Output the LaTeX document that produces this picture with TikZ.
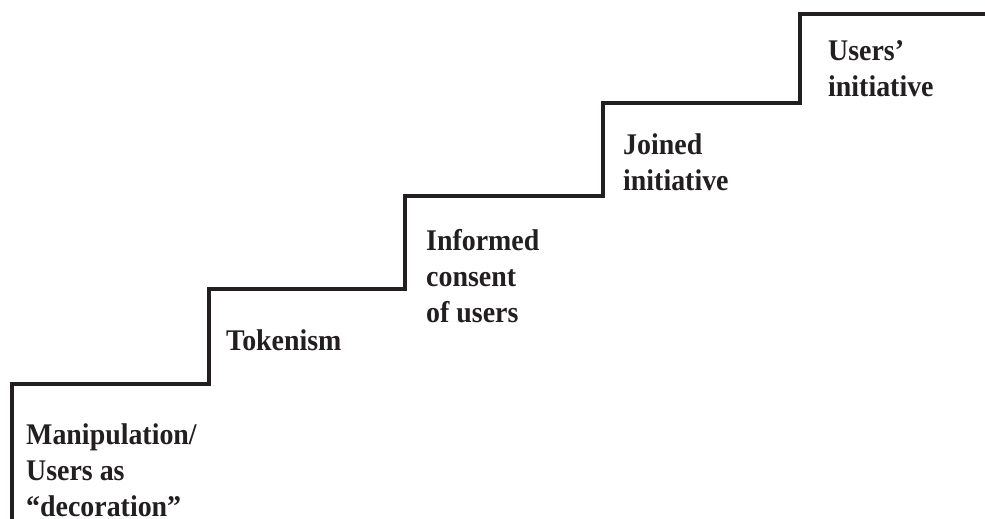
\documentclass[tikz,border=0pt]{standalone}
\usepackage{fontspec}
\setmainfont{Liberation Serif}
\newfontfamily\stepfont{Liberation Serif}[FakeStretch=0.93, Ligatures=TeX]
\usepackage{tikz}
\usetikzlibrary{positioning}
\definecolor{stairink}{RGB}{35,31,32}
\tikzstyle{stairline} = [line width=3.2pt, color=stairink, line join=miter]
\tikzstyle{steplabel} = [anchor=base west, inner sep=0pt, align=left, text=stairink,
  font=\stepfont\fontsize{30}{36}\selectfont\bfseries]

\begin{document}
\begin{tikzpicture}[x=1pt, y=-1pt]
\useasboundingbox (0,0) rectangle (985,519);
% Staircase
\coordinate (s0) at (12,519);
\coordinate (s1) at (209,384);
\coordinate (s2) at (405,289);
\coordinate (s3) at (603,196);
\coordinate (s4) at (800,103);
\coordinate (s5) at (985,14);
\draw[stairline] (s0) |- (s1) |- (s2) |- (s3) |- (s4) |- (s5);
% Step labels (anchored at the baseline of the last line)
\node[steplabel] (manip) at (26,516) {Manipulation/\\Users as\\“decoration”};
\node[steplabel] (token) at (226,350) {Tokenism};
\node[steplabel] (consent) at (426,322) {Informed\\consent\\of users};
\node[steplabel] (joined) at (623,190) {Joined\\initiative};
\node[steplabel] (users) at (828,96) {Users’\\initiative};
\end{tikzpicture}
\end{document}
